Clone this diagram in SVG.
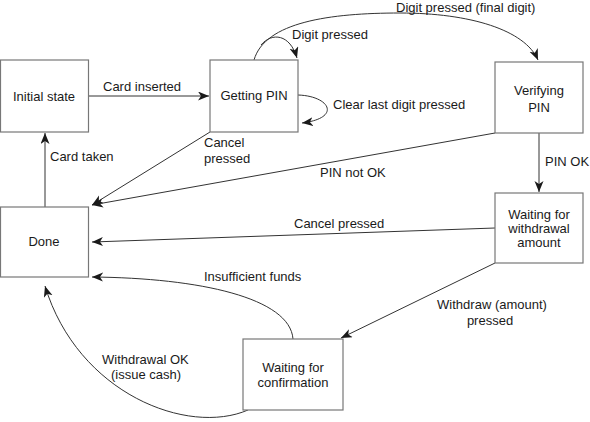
<svg xmlns="http://www.w3.org/2000/svg" width="590" height="422" viewBox="0 0 590 422">
<defs>
<marker id="ah" markerWidth="12" markerHeight="10" refX="11" refY="4.5" orient="auto" markerUnits="userSpaceOnUse">
<path d="M0,0 L11,4.5 L0,9 L3,4.5 z" fill="#1a1a1a"/>
</marker>
<style>
.box{fill:#fff;stroke:#777;stroke-width:1.2}
.t{font-family:"Liberation Sans",Arial,sans-serif;font-size:13px;fill:#1a1a1a}
.m{text-anchor:middle}
.c{fill:none;stroke:#333;stroke-width:1;marker-end:url(#ah)}
</style>
</defs>
<rect width="590" height="422" fill="#fff"/>
<g id="connectors">
<path class="c" d="M88,96 L209,96"/>
<path class="c" d="M45,207 L45,133"/>
<path class="c" d="M210,132 L92,205"/>
<path class="c" d="M495,133 L92,205"/>
<path class="c" d="M254,60 C265,22 330,13 400,13 C470,13 525,30 538,60"/>
<path class="c" d="M261,45 C272,32 290,34 297,58"/>
<path class="c" d="M298,95 C330,96 342,118 302,123"/>
<path class="c" d="M539,133 L539,192"/>
<path class="c" d="M495,228 L92,242"/>
<path class="c" d="M495,263 L341,338"/>
<path class="c" d="M293,339 C290,298 200,278 92,277"/>
<path class="c" d="M248,410 C188,436 78,394 45,286"/>
</g>
<g id="initial"><rect class="box" x="0.5" y="60" width="88" height="72"/><text class="t m" x="44" y="101">Initial state</text></g>
<g id="getting"><rect class="box" x="210" y="60" width="88" height="72"/><text class="t m" x="254" y="100">Getting PIN</text></g>
<g id="verifying"><rect class="box" x="495" y="62" width="88" height="71"/><text class="t m" x="539" y="95">Verifying</text><text class="t m" x="539" y="112">PIN</text></g>
<g id="withdrawal"><rect class="box" x="495" y="193" width="88" height="70"/><text class="t m" x="539" y="219">Waiting for</text><text class="t m" x="539" y="233">withdrawal</text><text class="t m" x="539" y="247">amount</text></g>
<g id="done"><rect class="box" x="0.5" y="207" width="88" height="70"/><text class="t m" x="44" y="246">Done</text></g>
<g id="confirm"><rect class="box" x="243" y="339" width="100" height="71"/><text class="t m" x="293" y="372">Waiting for</text><text class="t m" x="293" y="387">confirmation</text></g>
<g id="labels">
<text class="t" x="103" y="91">Card inserted</text>
<text class="t" x="50" y="161">Card taken</text>
<text class="t" x="204" y="147">Cancel</text>
<text class="t" x="204" y="163">pressed</text>
<text class="t" x="320" y="177">PIN not OK</text>
<text class="t" x="292" y="39">Digit pressed</text>
<text class="t" x="396" y="11.5">Digit pressed (final digit)</text>
<text class="t" x="333" y="109">Clear last digit pressed</text>
<text class="t" x="545" y="166">PIN OK</text>
<text class="t" x="294" y="228">Cancel pressed</text>
<text class="t m" x="492" y="309">Withdraw (amount)</text>
<text class="t m" x="490" y="325">pressed</text>
<text class="t" x="204" y="281">Insufficient funds</text>
<text class="t" x="102" y="364">Withdrawal OK</text>
<text class="t m" x="146" y="379">(issue cash)</text>
</g>
</svg>
